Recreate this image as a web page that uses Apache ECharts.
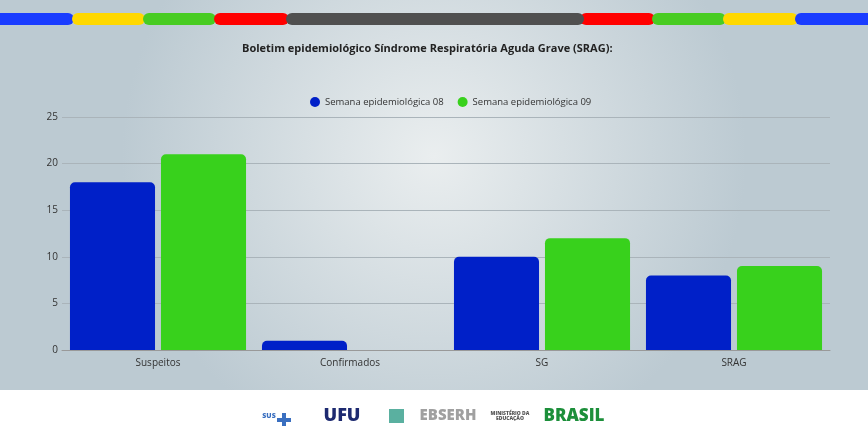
<!DOCTYPE html><html><head><meta charset="utf-8"><script src="https://cdn.jsdelivr.net/npm/echarts@6/dist/echarts.min.js"></script>
<style>html,body{margin:0;padding:0}#c{width:868px;height:443px}</style></head><body><div id="c"></div><script>
const categories=['Suspeitos','Confirmados','SG','SRAG'];
const seriesNames=['Semana epidemiológica 08','Semana epidemiológica 09'];
const week08=[18,1,10,8];
const week09=[21,0,12,9];
const chart=echarts.init(document.getElementById('c'));
const stripe=[['#1a3cff',-10,74],['#ffd800',72,145],['#48cc22',143,216],['#ff0000',214,289],['#ff0000',580,655],['#48cc22',652,726],['#ffd800',723,798],['#1a3cff',795,880],['#505050',286,584]];
const g=[{type:'rect',shape:{x:0,y:0,width:868,height:390},style:{fill:{type:'radial',x:0.5,y:0.4,r:0.8,colorStops:[{offset:0,color:'#eaeeef'},{offset:1,color:'#bccad2'}]}},z:-10},
{type:'rect',shape:{x:0,y:390,width:868,height:53},style:{fill:'#fff'},z:-10},
{type:'rect',shape:{x:282,y:413,width:4,height:13},style:{fill:'#3a6fc0'}},
{type:'rect',shape:{x:277,y:418,width:14,height:4},style:{fill:'#3a6fc0'}},
{type:'rect',shape:{x:389,y:409,width:15,height:14},style:{fill:'#5ab0a0'}}];
stripe.forEach(s=>g.push({type:'rect',shape:{x:s[1],y:13,width:s[2]-s[1],height:12,r:6},style:{fill:s[0]},z:-5}));
const ft=[['SUS',269,'#3a6fc0',7],['UFU',342,'#1d2a70',18],['EBSERH',448,'#a0a0a0',15],['MINISTÉRIO DA\nEDUCAÇÃO',510,'#555',5],['BRASIL',574,'#1c8f3a',17]];
ft.forEach(f=>g.push({type:'text',style:{text:f[0],x:f[1],y:416,fill:f[2],font:'900 '+f[3]+'px "Open Sans"',align:'center',verticalAlign:'middle'}}));
chart.setOption({
graphic:g,
title:{text:'Boletim epidemiológico Síndrome Respiratória Aguda Grave (SRAG):',left:237,top:38,textStyle:{fontSize:11,fontWeight:'bold',color:'#222',fontFamily:'Open Sans'}},
legend:{top:92,left:305,itemWidth:10,itemHeight:10,icon:'circle',itemGap:14,textStyle:{fontSize:9.5,color:'#333',fontFamily:'Open Sans'}},
grid:{left:62,right:38,top:117,bottom:93},
xAxis:{type:'category',data:categories,axisTick:{show:false},axisLine:{lineStyle:{color:'#999'}},axisLabel:{color:'#333',fontSize:10,fontFamily:'Open Sans'}},
yAxis:{type:'value',min:0,max:25,interval:5,axisLabel:{color:'#333',fontSize:10,fontFamily:'Open Sans',margin:4},splitLine:{lineStyle:{color:'#aab4ba'}}},
series:[{name:seriesNames[0],type:'bar',data:week08,itemStyle:{color:'#0020c8',borderRadius:[5,5,0,0]},barGap:'7%',barCategoryGap:'8.3%'},
{name:seriesNames[1],type:'bar',data:week09,itemStyle:{color:'#38d11c',borderRadius:[5,5,0,0]}}]
});
</script></body></html>
